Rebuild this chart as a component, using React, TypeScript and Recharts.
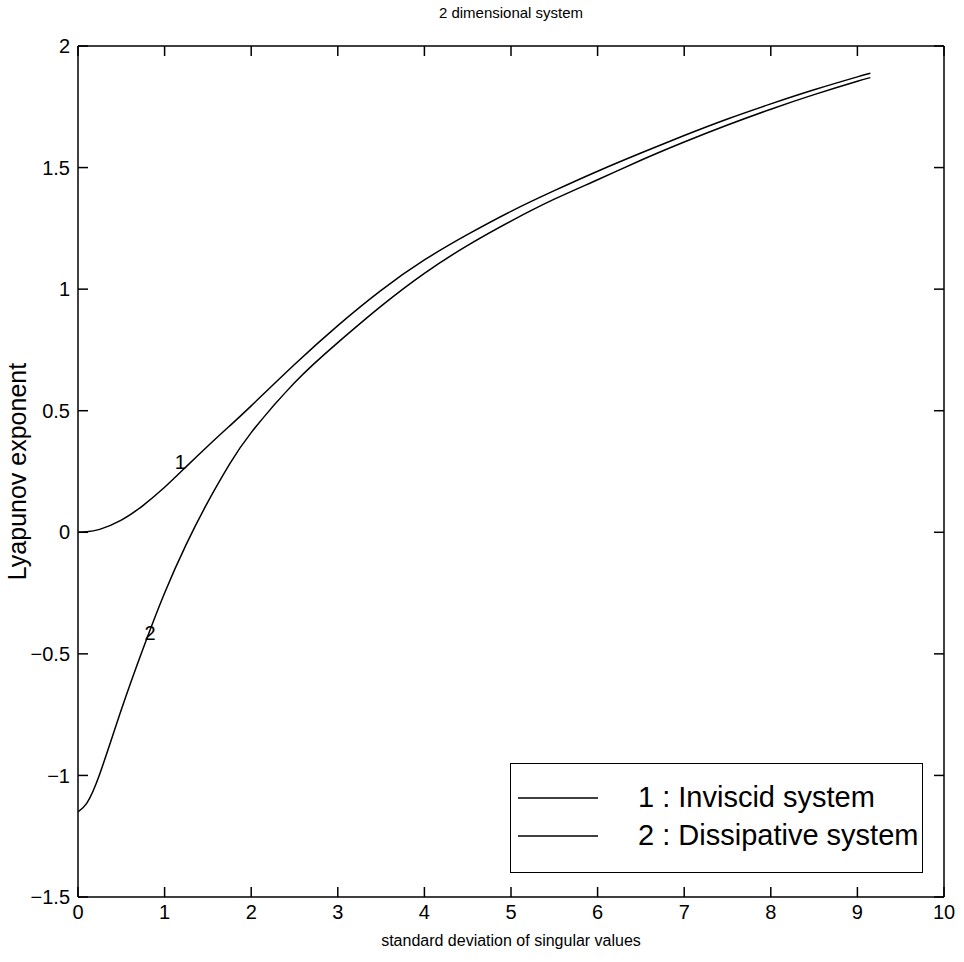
import { LineChart, Line, XAxis, YAxis, Legend, Label, LabelList } from "recharts";

const FONT = "'Liberation Sans', Arial, Helvetica, sans-serif";

// standard deviation of singular values
const sigma = [0, 0.1, 0.25, 0.5, 0.75, 1, 1.25, 1.5, 1.75, 2, 2.5, 3, 3.5, 4, 4.5, 5, 5.5, 6, 6.5, 7, 7.5, 8, 8.5, 9, 9.15];
// curve 1 : inviscid
const inviscid = [0, 0.002, 0.012, 0.05, 0.11, 0.185, 0.27, 0.355, 0.437, 0.52, 0.69, 0.85, 0.995, 1.12, 1.225, 1.32, 1.405, 1.485, 1.56, 1.632, 1.7, 1.762, 1.82, 1.873, 1.888];
// curve 2 : dissipative
const dissipative = [-1.15, -1.115, -0.995, -0.73, -0.48, -0.25, -0.05, 0.125, 0.28, 0.41, 0.615, 0.78, 0.93, 1.065, 1.18, 1.28, 1.37, 1.45, 1.53, 1.605, 1.675, 1.74, 1.8, 1.855, 1.87];

const xTicks = [0, 1, 2, 3, 4, 5, 6, 7, 8, 9, 10];
const yTicks = [-1.5, -1, -0.5, 0, 0.5, 1, 1.5, 2];

const data = sigma.map((s, i) => ({ s, inviscid: inviscid[i], dissipative: dissipative[i] }));

const fmt = (v: number) => String(v).replace("-", "\u2212");

const tickStyle = { fill: "#000", fontSize: 20, fontFamily: FONT };
const black = { stroke: "#000", strokeWidth: 1.5 };

const NoLabel = () => <g />;

function curveTag(text: string, at: number, dx: number, dy: number) {
  return (p: any) =>
    p.index === at ? (
      <text x={p.x + dx} y={p.y + dy} textAnchor="middle" dominantBaseline="central" fontSize={20} fontFamily={FONT} fill="#000">
        {text}
      </text>
    ) : null;
}

function LegendBox({ payload }: any) {
  return (
    <div style={{ width: 411, height: 108, border: "1.5px solid #000", background: "#fff" }}>
      <svg width={411} height={108}>
        {(payload || []).map((e: any, i: number) => (
          <g key={e.value}>
            <line x1={7} x2={87} y1={34 + i * 38} y2={34 + i * 38} stroke="#000" strokeWidth={1.3} />
            <text x={127} y={43 + i * 38} fontSize={29} fontFamily={FONT} fill="#000">
              {e.value}
            </text>
          </g>
        ))}
      </svg>
    </div>
  );
}

export default function App() {
  return (
    <div style={{ position: "absolute", left: 0, top: 0, width: 964, height: 962, background: "#fff" }}>
      <div style={{ position: "absolute", top: 4, left: 0, width: 1022, textAlign: "center", fontSize: 15, fontFamily: FONT }}>
        2 dimensional system
      </div>
      <LineChart width={964} height={962} data={data} margin={{ top: 46, right: 20, bottom: 25, left: 18 }}>
        <XAxis
          xAxisId="b"
          dataKey="s"
          type="number"
          domain={[0, 10]}
          ticks={xTicks}
          tickLine={false}
          axisLine={black}
          tick={tickStyle}
          height={40}
          allowDataOverflow
        >
          <Label value="standard deviation of singular values" position="insideBottom" offset={-9} style={{ fill: "#000", fontSize: 16, fontFamily: FONT }} />
        </XAxis>
        <XAxis xAxisId="bm" dataKey="s" type="number" domain={[0, 10]} ticks={xTicks} orientation="bottom" mirror tick={NoLabel} tickSize={10} axisLine={false} tickLine={black} allowDataOverflow />
        <XAxis xAxisId="tm" dataKey="s" type="number" domain={[0, 10]} ticks={xTicks} orientation="top" mirror tick={NoLabel} tickSize={10} axisLine={black} tickLine={black} allowDataOverflow />
        <YAxis
          yAxisId="l"
          type="number"
          domain={[-1.5, 2]}
          ticks={yTicks}
          tickFormatter={fmt}
          tickLine={false}
          axisLine={black}
          tick={tickStyle}
          width={60}
          allowDataOverflow
        >
          <Label value="Lyapunov exponent" angle={-90} position="insideLeft" offset={-1} style={{ textAnchor: "middle", fill: "#000", fontSize: 25, fontFamily: FONT }} />
        </YAxis>
        <YAxis yAxisId="lm" type="number" domain={[-1.5, 2]} ticks={yTicks} orientation="left" mirror tick={NoLabel} tickSize={10} axisLine={false} tickLine={black} allowDataOverflow />
        <YAxis yAxisId="rm" type="number" domain={[-1.5, 2]} ticks={yTicks} orientation="right" mirror tick={NoLabel} tickSize={10} axisLine={black} tickLine={black} allowDataOverflow />
        <Legend
          layout="horizontal"
          verticalAlign="middle"
          align="center"
          content={LegendBox}
          wrapperStyle={{ position: "absolute", left: 510, top: 763, width: 414, height: 111 }}
        />
        <Line
          xAxisId="b"
          yAxisId="l"
          name="1 : Inviscid system"
          dataKey="inviscid"
          type="natural"
          stroke="#000"
          strokeWidth={1.5}
          dot={false}
          isAnimationActive={false}
        >
          <LabelList dataKey="inviscid" content={curveTag("1", 6, -6, -5)} />
        </Line>
        <Line
          xAxisId="b"
          yAxisId="l"
          name="2 : Dissipative system"
          dataKey="dissipative"
          type="natural"
          stroke="#000"
          strokeWidth={1.5}
          dot={false}
          isAnimationActive={false}
        >
          <LabelList dataKey="dissipative" content={curveTag("2", 4, 7, -16)} />
        </Line>
      </LineChart>
    </div>
  );
}
